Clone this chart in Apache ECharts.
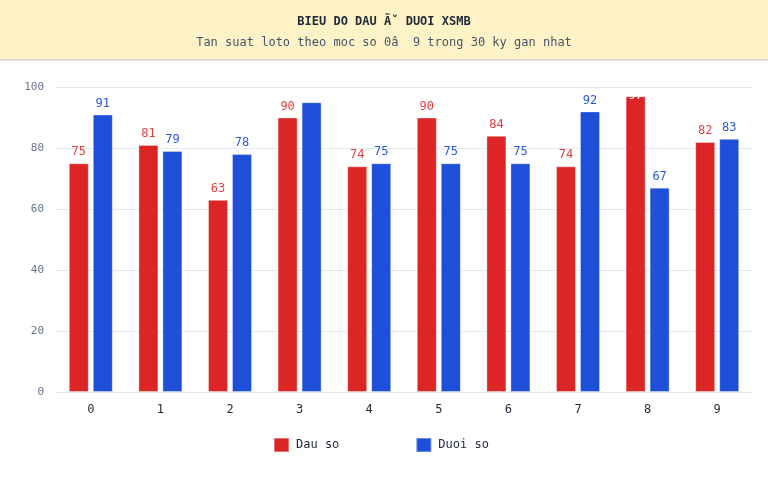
<!DOCTYPE html>
<html>
<head>
<meta charset="utf-8">
<script src="https://cdn.jsdelivr.net/npm/echarts@6/dist/echarts.min.js"></script>
<style>
  html, body { margin: 0; padding: 0; background: #fff; }
  #main { width: 768px; height: 480px; }
</style>
</head>
<body>
<div id="main"></div>
<script>
// du lieu
var categories = ['0', '1', '2', '3', '4', '5', '6', '7', '8', '9'];
var dauSo = [75, 81, 63, 90, 74, 90, 84, 74, 97, 82];
var duoiSo = [91, 79, 78, 95, 75, 75, 75, 92, 67, 83];
var yTicks = [0, 20, 40, 60, 80, 100];

var font = 'DejaVu Sans Mono, monospace';
var red = '#dc2626';
var blue = '#1d4fd8';

// nhan tren cot: gia tri cao thi mau trang (giong anh goc)
function makeData(arr) {
    return arr.map(function (v) {
        if (v >= 97) {
            return { value: v, label: { color: '#fff', offset: [0, 11] } };
        }
        if (v >= 95) {
            return { value: v, label: { show: false } };
        }
        return v;
    });
}

var myChart = echarts.init(document.getElementById('main'));
var option = {
    backgroundColor: '#fff',
    textStyle: { fontFamily: font },
    graphic: [
        {
            type: 'rect', left: 0, top: 0, z: -1,
            shape: { width: 768, height: 59 },
            style: { fill: '#fef3c7' }
        },
        {
            type: 'rect', left: 0, top: 59, z: -1,
            shape: { width: 768, height: 1.5 },
            style: { fill: '#d6d3c4' }
        }
    ],
    title: {
        text: 'BIEU DO DAU Ã\u02C7 DUOI XSMB',
        subtext: 'Tan suat loto theo moc so 0â  9 trong 30 ky gan nhat',
        left: 'center',
        top: 11,
        itemGap: 9,
        textStyle: { fontFamily: font, fontSize: 12, fontWeight: 'bold', color: '#1f2937' },
        subtextStyle: { fontFamily: font, fontSize: 12, color: '#475569' }
    },
    legend: {
        bottom: 22,
        left: 268,
        itemWidth: 15,
        itemHeight: 14,
        itemGap: 76,
        icon: 'rect',
        textStyle: { fontFamily: font, fontSize: 12, color: '#1e293b', padding: [0, 0, 0, 2] },
        data: ['Dau so', 'Duoi so']
    },
    grid: { left: 56, right: 16, top: 87, bottom: 88 },
    xAxis: {
        type: 'category',
        data: categories,
        axisTick: { show: false },
        axisLine: { lineStyle: { color: '#e2e8f0' } },
        axisLabel: { color: '#1e293b', fontFamily: font, fontSize: 12, margin: 12 }
    },
    yAxis: {
        type: 'value',
        min: yTicks[0],
        max: yTicks[yTicks.length - 1],
        interval: 20,
        splitLine: { lineStyle: { color: '#e5e9f0' } },
        axisLabel: { color: '#64748b', fontFamily: font, fontSize: 11, margin: 12 }
    },
    series: [
        {
            name: 'Dau so',
            type: 'bar',
            barWidth: 20,
            barGap: '20%',
            data: makeData(dauSo),
            itemStyle: { color: red, borderColor: 'rgba(255,255,255,0.35)', borderWidth: 1 },
            label: { show: true, position: 'top', distance: 5, color: '#e53e3e', fontFamily: font, fontSize: 12 }
        },
        {
            name: 'Duoi so',
            type: 'bar',
            barWidth: 20,
            data: makeData(duoiSo),
            itemStyle: { color: blue, borderColor: 'rgba(255,255,255,0.35)', borderWidth: 1 },
            label: { show: true, position: 'top', distance: 5, color: '#2a56dc', fontFamily: font, fontSize: 12 }
        }
    ]
};
myChart.setOption(option);
</script>
</body>
</html>
